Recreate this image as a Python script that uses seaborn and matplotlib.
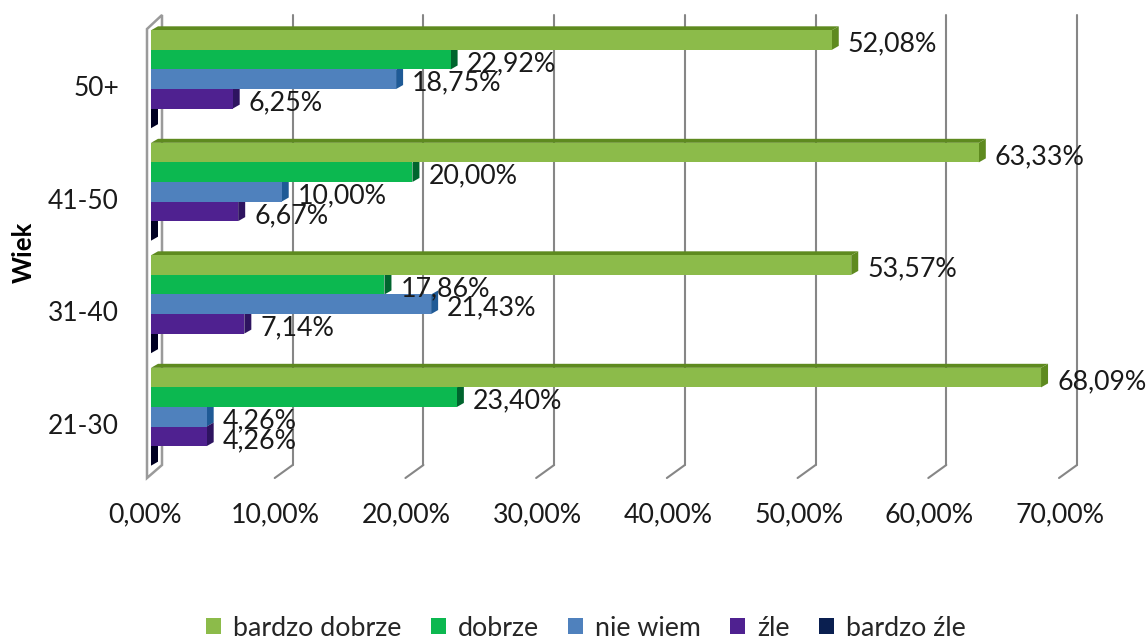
import matplotlib
matplotlib.use("Agg")
import matplotlib.pyplot as plt
import pandas as pd
import seaborn as sns
from matplotlib.patches import Polygon
from matplotlib.transforms import Affine2D

# Values
age_groups = ["50+", "41-50", "31-40", "21-30"]
answers = ["bardzo dobrze", "dobrze", "nie wiem", "źle", "bardzo źle"]
bardzo_dobrze = [52.08, 63.33, 53.57, 68.09]
dobrze = [22.92, 20.00, 17.86, 23.40]
nie_wiem = [18.75, 10.00, 21.43, 4.26]
zle = [6.25, 6.67, 7.14, 4.26]
bardzo_zle = [0, 0, 0, 0]
x_ticks = [0, 10, 20, 30, 40, 50, 60, 70]

colors = ["#8CBB4A", "#0CB850", "#4F81BD", "#4F2190", "#0A1F50"]
side_colors = ["#5E8A1F", "#00652E", "#1F5A96", "#2E1460", "#000022"]

series = [bardzo_dobrze, dobrze, nie_wiem, zle, bardzo_zle]
rows = []
for answer, values in zip(answers, series):
    for age, value in zip(age_groups, values):
        rows.append({"age": age, "answer": answer, "value": value})
df = pd.DataFrame(rows)

sns.set_theme(style="white")
plt.rcParams["font.family"] = ["Lato", "DejaVu Sans"]

W, H = 1148, 639
fig = plt.figure(figsize=(W / 100, H / 100), dpi=100)
ax = fig.add_axes([151 / W, 1 - 473 / H, 915 / W, 450 / H])

sns.barplot(data=df, x="value", y="age", hue="answer", order=age_groups,
            hue_order=answers, palette=colors, orient="y", width=0.87,
            saturation=1, linewidth=0, ax=ax, zorder=2)
ax.set_xlim(0, 70)
ax.set_ylim(3.5, -0.5)


# shift something by screen pixels (y up)
def px(dx, dy):
    return ax.transData + Affine2D().translate(dx, dy)


depth_x, depth_y = 7, 4
for c, container in enumerate(ax.containers):
    for bar in container:
        xe = bar.get_x() + bar.get_width()
        y0, y1 = bar.get_y(), bar.get_y() + bar.get_height()
        # corners through the data transform, so the side follows the bar
        a = ax.transData.transform([(xe, y1), (xe, y0)])
        side = [a[0], a[1], a[1] + (depth_x, depth_y), a[0] + (depth_x, depth_y)]
        ax.add_patch(Polygon(side, closed=True, fc=side_colors[c], ec="none",
                             transform=None, zorder=1.5))
        if c == 0:
            b = ax.transData.transform([(0, y0), (xe, y0)])
            top = [b[0], b[1], b[1] + (depth_x, depth_y), b[0] + (depth_x, depth_y)]
            ax.add_patch(Polygon(top, closed=True, fc=side_colors[0], ec="none",
                                 transform=None, zorder=1.5))

        if c < 4:
            ax.text(xe, (y0 + y1) / 2, f"{bar.get_width():.2f}%".replace(".", ","),
                    transform=px(16, -4), va="center", ha="left", fontsize=19.3,
                    color="#1a1a1a", zorder=5)

# back grid lines and the small floor ticks
grey = "#868686"
xform = ax.get_xaxis_transform()
for t in x_ticks[1:]:
    ax.plot([t, t], [0, 1], transform=xform + Affine2D().translate(11, 8),
            color=grey, lw=1.5, zorder=1, clip_on=False)
    p0 = xform.transform((t, 0))
    ax.plot([p0[0] + 11, p0[0] - 7], [p0[1] + 8, p0[1] - 5], transform=None,
            color=grey, lw=1.5, zorder=1, clip_on=False)

# left wall
f = ax.transAxes.transform([(0, 0), (0, 1)])
wall = [f[0] + (-4, -5), f[1] + (-4, -6), f[1] + (11, 8), f[0] + (11, 8)]
ax.add_patch(Polygon(wall, closed=True, fc="none", ec="#9a9a9a", lw=1.8,
                     transform=None, zorder=1, clip_on=False))

ax.set_xticks(x_ticks)
ax.set_xticklabels([f"{t},00%" for t in x_ticks], fontsize=19.3, color="#1a1a1a")
ax.tick_params(axis="x", length=0, pad=21)
ax.tick_params(axis="y", length=0, pad=23)
for label in ax.get_xticklabels():
    label.set_transform(label.get_transform() + Affine2D().translate(-6, 0))
for label in ax.get_yticklabels():
    label.set_fontsize(19)
    label.set_color("#1a1a1a")
    label.set_transform(label.get_transform() + Affine2D().translate(0, -7))

ax.set_xlabel("")
ax.set_ylabel("")
fig.text(24 / W, 1 - 252 / H, "Wiek", rotation=90, fontsize=18.5, fontweight="bold",
         color="black", ha="center", va="center")
sns.despine(ax=ax, left=True, bottom=True)
ax.patch.set_alpha(0)

sns.move_legend(ax, "center", bbox_to_anchor=(586 / W, 1 - 628 / H),
                bbox_transform=fig.transFigure, ncol=5, frameon=False, title=None,
                fontsize=19.3, handlelength=0.55, handleheight=0.55, handletextpad=0.45,
                columnspacing=1.1)

fig.savefig("out.png", dpi=100, facecolor="white")
